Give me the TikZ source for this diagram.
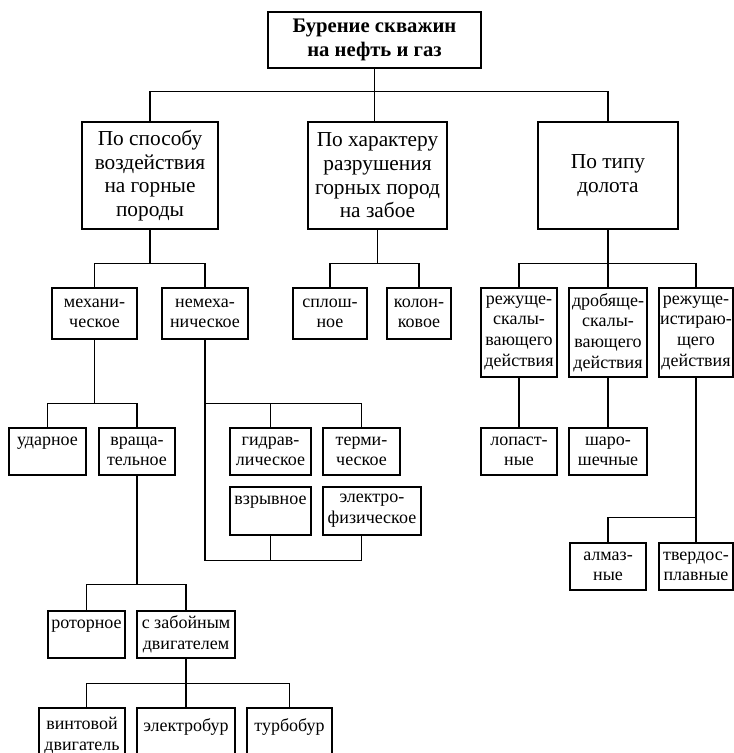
\documentclass[tikz,border=0pt]{standalone}
\usepackage{fontspec}
\setmainfont{Liberation Serif}
\begin{document}
\begin{tikzpicture}[x=0.75pt, y=-0.75pt, line width=1pt,
  every node/.style={draw, align=center, inner sep=0pt, font=\fontsize{13.5}{15.5}\selectfont},
  sz/.style 2 args={minimum width=#1*0.75pt, minimum height=#2*0.75pt},
  big/.style={font=\fontsize{16}{17.8}\selectfont},
  head/.style={font=\fontsize{15.5}{18}\selectfont\bfseries}]
\useasboundingbox (0,0) rectangle (734,753);

\node (top) [head, sz={213}{56}] at (374.5,40) {Бурение скважин\\на нефть и газ};

\node (p1) [big, sz={136}{107}] at (150,175.5) {По способу\\воздействия\\на горные\\породы};
\node (p2) [big, sz={139}{107}] at (377.5,175.5) {По характеру\\разрушения\\горных пород\\на забое};
\node (p3) [big, sz={140}{107}] at (608,175.5) {По типу\\долота};

\node (mech) [sz={85}{51}] at (94.5,313.5) {механи-\\ческое};
\node (nonmech) [sz={86}{51}] at (205,313.5) {немеха-\\ническое};
\node (splosh) [sz={74}{51}] at (330,313.5) {сплош-\\ное};
\node (kolon) [sz={64}{51}] at (419,313.5) {колон-\\ковое};
\node (rsk) [sz={76}{89}] at (519,332.5) {режуще-\\скалы-\\вающего\\действия};
\node (drob) [sz={78}{89}] at (608,332.5) {дробяще-\\скалы-\\вающего\\действия};
\node (rist) [sz={74}{89}] at (696,332.5) {режуще-\\истираю-\\щего\\действия};

\node (udar) [sz={77}{47}] at (47.5,451.5) {ударное\\\phantom{x}};
\node (vrash) [sz={76}{47}] at (137,451.5) {враща-\\тельное};
\node (hydr) [sz={81}{47}] at (270.5,451.5) {гидрав-\\лическое};
\node (therm) [sz={77}{47}] at (361.5,451.5) {терми-\\ческое};
\node (expl) [sz={81}{48}] at (270.5,511) {взрывное\\\phantom{x}};
\node (elec) [sz={98}{48}] at (372,511) {электро-\\физическое};
\node (lopast) [sz={76}{47}] at (519,451.5) {лопаст-\\ные};
\node (sharo) [sz={78}{47}] at (608,451.5) {шаро-\\шечные};
\node (almaz) [sz={76}{47}] at (608,566.5) {алмаз-\\ные};
\node (tverd) [sz={74}{47}] at (696,566.5) {твердос-\\плавные};

\node (rotor) [sz={77}{47}] at (86.5,634.5) {роторное\\\phantom{x}};
\node (zab) [sz={98}{47}] at (186,634.5) {с забойным\\двигателем};
\node (vint) [sz={86}{55}] at (82,735.5) {винтовой\\двигатель};
\node (ebur) [sz={98}{55}] at (186,735.5) {электробур\\\phantom{x}};
\node (turbo) [sz={85}{55}] at (289.5,735.5) {турбобур\\\phantom{x}};

\draw (top.south) -- ++(0,23) coordinate (j0);
\draw (p1.north) |- (j0) -| (p3.north);
\draw (j0) -- (j0 |- p2.north);

\draw (p1.south) -- ++(0,34) coordinate (j1);
\draw (mech.north) |- (j1) -| (nonmech.north);
\draw (p2.south) -- ++(0,34) coordinate (j2);
\draw (splosh.north) |- (j2) -| (kolon.north);
\draw (p3.south) -- ++(0,34) coordinate (j3);
\draw (rsk.north) |- (j3) -| (rist.north);
\draw (j3) -- (drob.north);

\draw (mech.south) -- ++(0,64) coordinate (j4);
\draw (udar.north) |- (j4) -| (vrash.north);
\draw (nonmech.south) -- ++(0,64) coordinate (j5);
\draw (j5) -| (hydr.north);
\draw (j5) -| (therm.north);
\draw (j5) -- ++(0,157) coordinate (j6);
\draw (j6) -| (expl.south);
\draw (j6) -| (therm |- elec.south);

\draw (rsk.south) -- (lopast.north);
\draw (drob.south) -- (sharo.north);
\draw (rist.south) -- ++(0,140) coordinate (j9);
\draw (j9) -| (almaz.north);
\draw (j9) -- (tverd.north);

\draw (vrash.south) -- ++(0,109) coordinate (j7);
\draw (rotor.north) |- (j7) -| (zab.north);
\draw (zab.south) -- ++(0,25) coordinate (j8);
\draw (j8) -| (vint.north -| rotor);
\draw (j8) -- (ebur.north);
\draw (j8) -| (turbo.north);
\end{tikzpicture}
\end{document}
